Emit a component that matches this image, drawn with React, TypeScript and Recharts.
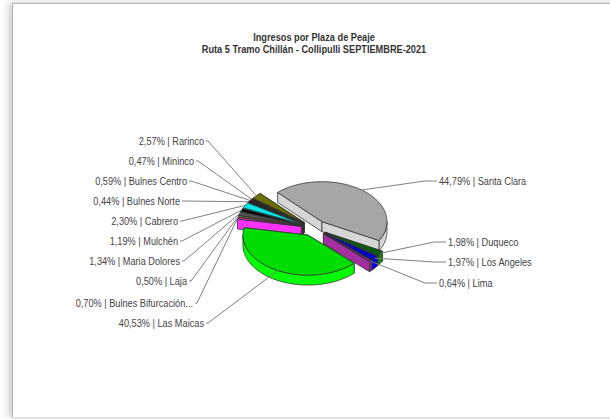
import { PieChart, Pie } from 'recharts';

// clockwise from the top of Santa Clara round to Las Maicas
const frontNames = ['Santa Clara', 'Duqueco', 'Los Angeles', 'Lima', 'Las Maicas'];
const frontValues = [44.79, 1.98, 1.97, 0.64, 40.53];
const frontTops = ['#a6a6a6', '#0a5c0a', '#0000c8', '#7d2a7d', '#00dd00'];
const frontWalls = ['#d6d6d6', '#128212', '#0000ff', '#a32fa3', '#00ff00'];

// counter clockwise from Santa Clara, so the front slices paint last
const backNames = ['Rarinco', 'Mininco', 'Bulnes Centro', 'Bulnes Norte', 'Cabrero', 'Mulchén', 'Maria Dolores', 'Laja', 'Bulnes Bifurcación...'];
const backValues = [2.57, 0.47, 0.59, 0.44, 2.3, 1.19, 1.34, 0.5, 0.7];
const backTops = ['#6e6e00', '#300000', '#101010', '#000000', '#00e5e5', '#000000', '#555555', '#a8a800', '#d030d0'];
const backWalls = ['#8a8a00', '#500000', '#222222', '#111111', '#00ffff', '#111111', '#777777', '#c8c800', '#ff33ff'];

// where each label ends: [x, y]
const labelSpots: Record<string, [number, number]> = {
  Rarinco: [204, 141],
  Mininco: [194, 161],
  'Bulnes Centro': [187, 181],
  'Bulnes Norte': [180, 201],
  Cabrero: [178, 221],
  Mulchén: [178, 241],
  'Maria Dolores': [180, 261],
  Laja: [187, 281],
  'Bulnes Bifurcación...': [193, 303],
  'Las Maicas': [204, 323],
  'Santa Clara': [439, 181],
  Duqueco: [448, 242],
  'Los Angeles': [448, 262],
  Lima: [439, 283],
};

const START = 133;
const SQUASH = 0.615;
const EXPLODE = 13;
const DEPTH = 10;
const EDGE = '#333333';
const FONT = "'Liberation Sans', Arial, sans-serif";
// the original type is a condensed face, none is installed
const CONDENSE = 0.8;

const total = (list: number[]) => list.reduce((a, b) => a + b, 0);
const rows = (names: string[], values: number[], tops: string[], walls: string[]) =>
  names.map((name, i) => ({ name, value: values[i], fill: tops[i], wall: walls[i] }));

const frontData = rows(frontNames, frontValues, frontTops, frontWalls);
const backData = rows(backNames, backValues, backTops, backWalls);

const rad = (deg: number) => (deg * Math.PI) / 180;

function hub(cx: number, cy: number, mid: number) {
  return { x: cx + EXPLODE * Math.cos(rad(mid)), y: cy - EXPLODE * SQUASH * Math.sin(rad(mid)) };
}

function Slice(props: any) {
  const { cx, cy, startAngle, endAngle, outerRadius: r, fill, payload } = props;
  const wall = payload?.wall ?? props.wall;
  const lo = Math.min(startAngle, endAngle);
  const hi = Math.max(startAngle, endAngle);
  const { x: hx, y: hy } = hub(cx, cy, (lo + hi) / 2);
  const at = (deg: number) => [hx + r * Math.cos(rad(deg)), hy - r * SQUASH * Math.sin(rad(deg))];

  const arc: number[][] = [];
  for (let a = lo; a < hi; a += 1.5) arc.push(at(a));
  arc.push(at(hi));
  const poly = (pts: number[][]) => pts.map((p) => `${p[0].toFixed(2)},${p[1].toFixed(2)}`).join(' ');

  const faces = [at(lo), at(hi)].sort((a, b) => a[1] - b[1]);

  // only the part of the rim facing the viewer gets a wall
  const low: number[][] = [];
  for (let a = lo; a <= hi; a += 1.5) {
    if (Math.sin(rad(a)) < 0.02) low.push(at(a));
  }
  if (Math.sin(rad(hi)) < 0.02) low.push(at(hi));

  return (
    <g stroke={EDGE} strokeWidth={0.8} strokeLinejoin="round">
      {faces.map((p, i) => (
        <polygon key={i} fill={wall} points={poly([[hx, hy], p, [p[0], p[1] + DEPTH], [hx, hy + DEPTH]])} />
      ))}
      {low.length > 1 && (
        <polygon fill={wall} points={poly([...low, ...low.map((p) => [p[0], p[1] + DEPTH]).reverse()])} />
      )}
      <polygon fill={fill} points={poly([[hx, hy], ...arc])} />
    </g>
  );
}

function Label(props: any) {
  const { cx, cy, midAngle, outerRadius: r, name, value } = props;
  const [tx, ty] = labelSpots[name];
  const { x: hx, y: hy } = hub(cx, cy, midAngle);
  const rimX = hx + r * Math.cos(rad(midAngle));
  const rimY = hy - r * SQUASH * Math.sin(rad(midAngle));
  const onRight = tx > cx;
  const endX = onRight ? tx - 2 : tx + 2;
  const elbowX = onRight ? tx - 14 : tx + 4;
  return (
    <g>
      <polyline fill="none" stroke="#808080" strokeWidth={1} points={`${rimX},${rimY} ${elbowX},${ty} ${endX},${ty}`} />
      <text transform={`translate(${tx} ${ty + 4}) scale(${CONDENSE} 1)`} textAnchor={onRight ? 'start' : 'end'} fontFamily={FONT} fontSize={11.5} fill="#444444">
        {`${value.toFixed(2).replace('.', ',')}% | ${name}`}
      </text>
    </g>
  );
}

export default function App() {
  const titleStyle = { fontFamily: FONT, fontSize: 11.5, fontWeight: 700, color: '#333333', lineHeight: '12px', textAlign: 'center' as const, transform: `scaleX(${CONDENSE})` };
  return (
    <div style={{ position: 'absolute', left: 0, top: 0, width: 610, height: 419, overflow: 'hidden', background: '#ffffff' }}>
      <div style={{ position: 'absolute', left: 12, top: 3, width: 640, height: 413, border: '1px solid #b4b4b4', borderBottomColor: '#dedede', boxShadow: '-3px 0 8px rgba(0,0,0,0.22)', background: '#ffffff' }} />
      <div style={{ position: 'absolute', left: 113.5, width: 400, top: 31, ...titleStyle }}>
        <div>Ingresos por Plaza de Peaje</div>
        <div>Ruta 5 Tramo Chillán - Collipulli SEPTIEMBRE-2021</div>
      </div>
      <div style={{ position: 'absolute', left: 0, top: 0 }}>
        <PieChart width={610} height={419} margin={{ top: 0, right: 0, bottom: 0, left: 0 }}>
          <Pie
            data={backData}
            dataKey="value"
            nameKey="name"
            cx={314}
            cy={228}
            innerRadius={0}
            outerRadius={65}
            startAngle={START}
            endAngle={START + total(backValues) * 3.6}
            shape={Slice}
            label={Label}
            labelLine={false}
            isAnimationActive={false}
          />
          <Pie
            data={frontData}
            dataKey="value"
            nameKey="name"
            cx={314}
            cy={228}
            innerRadius={0}
            outerRadius={65}
            startAngle={START}
            endAngle={START - total(frontValues) * 3.6}
            shape={Slice}
            label={Label}
            labelLine={false}
            isAnimationActive={false}
          />
        </PieChart>
      </div>
    </div>
  );
}
